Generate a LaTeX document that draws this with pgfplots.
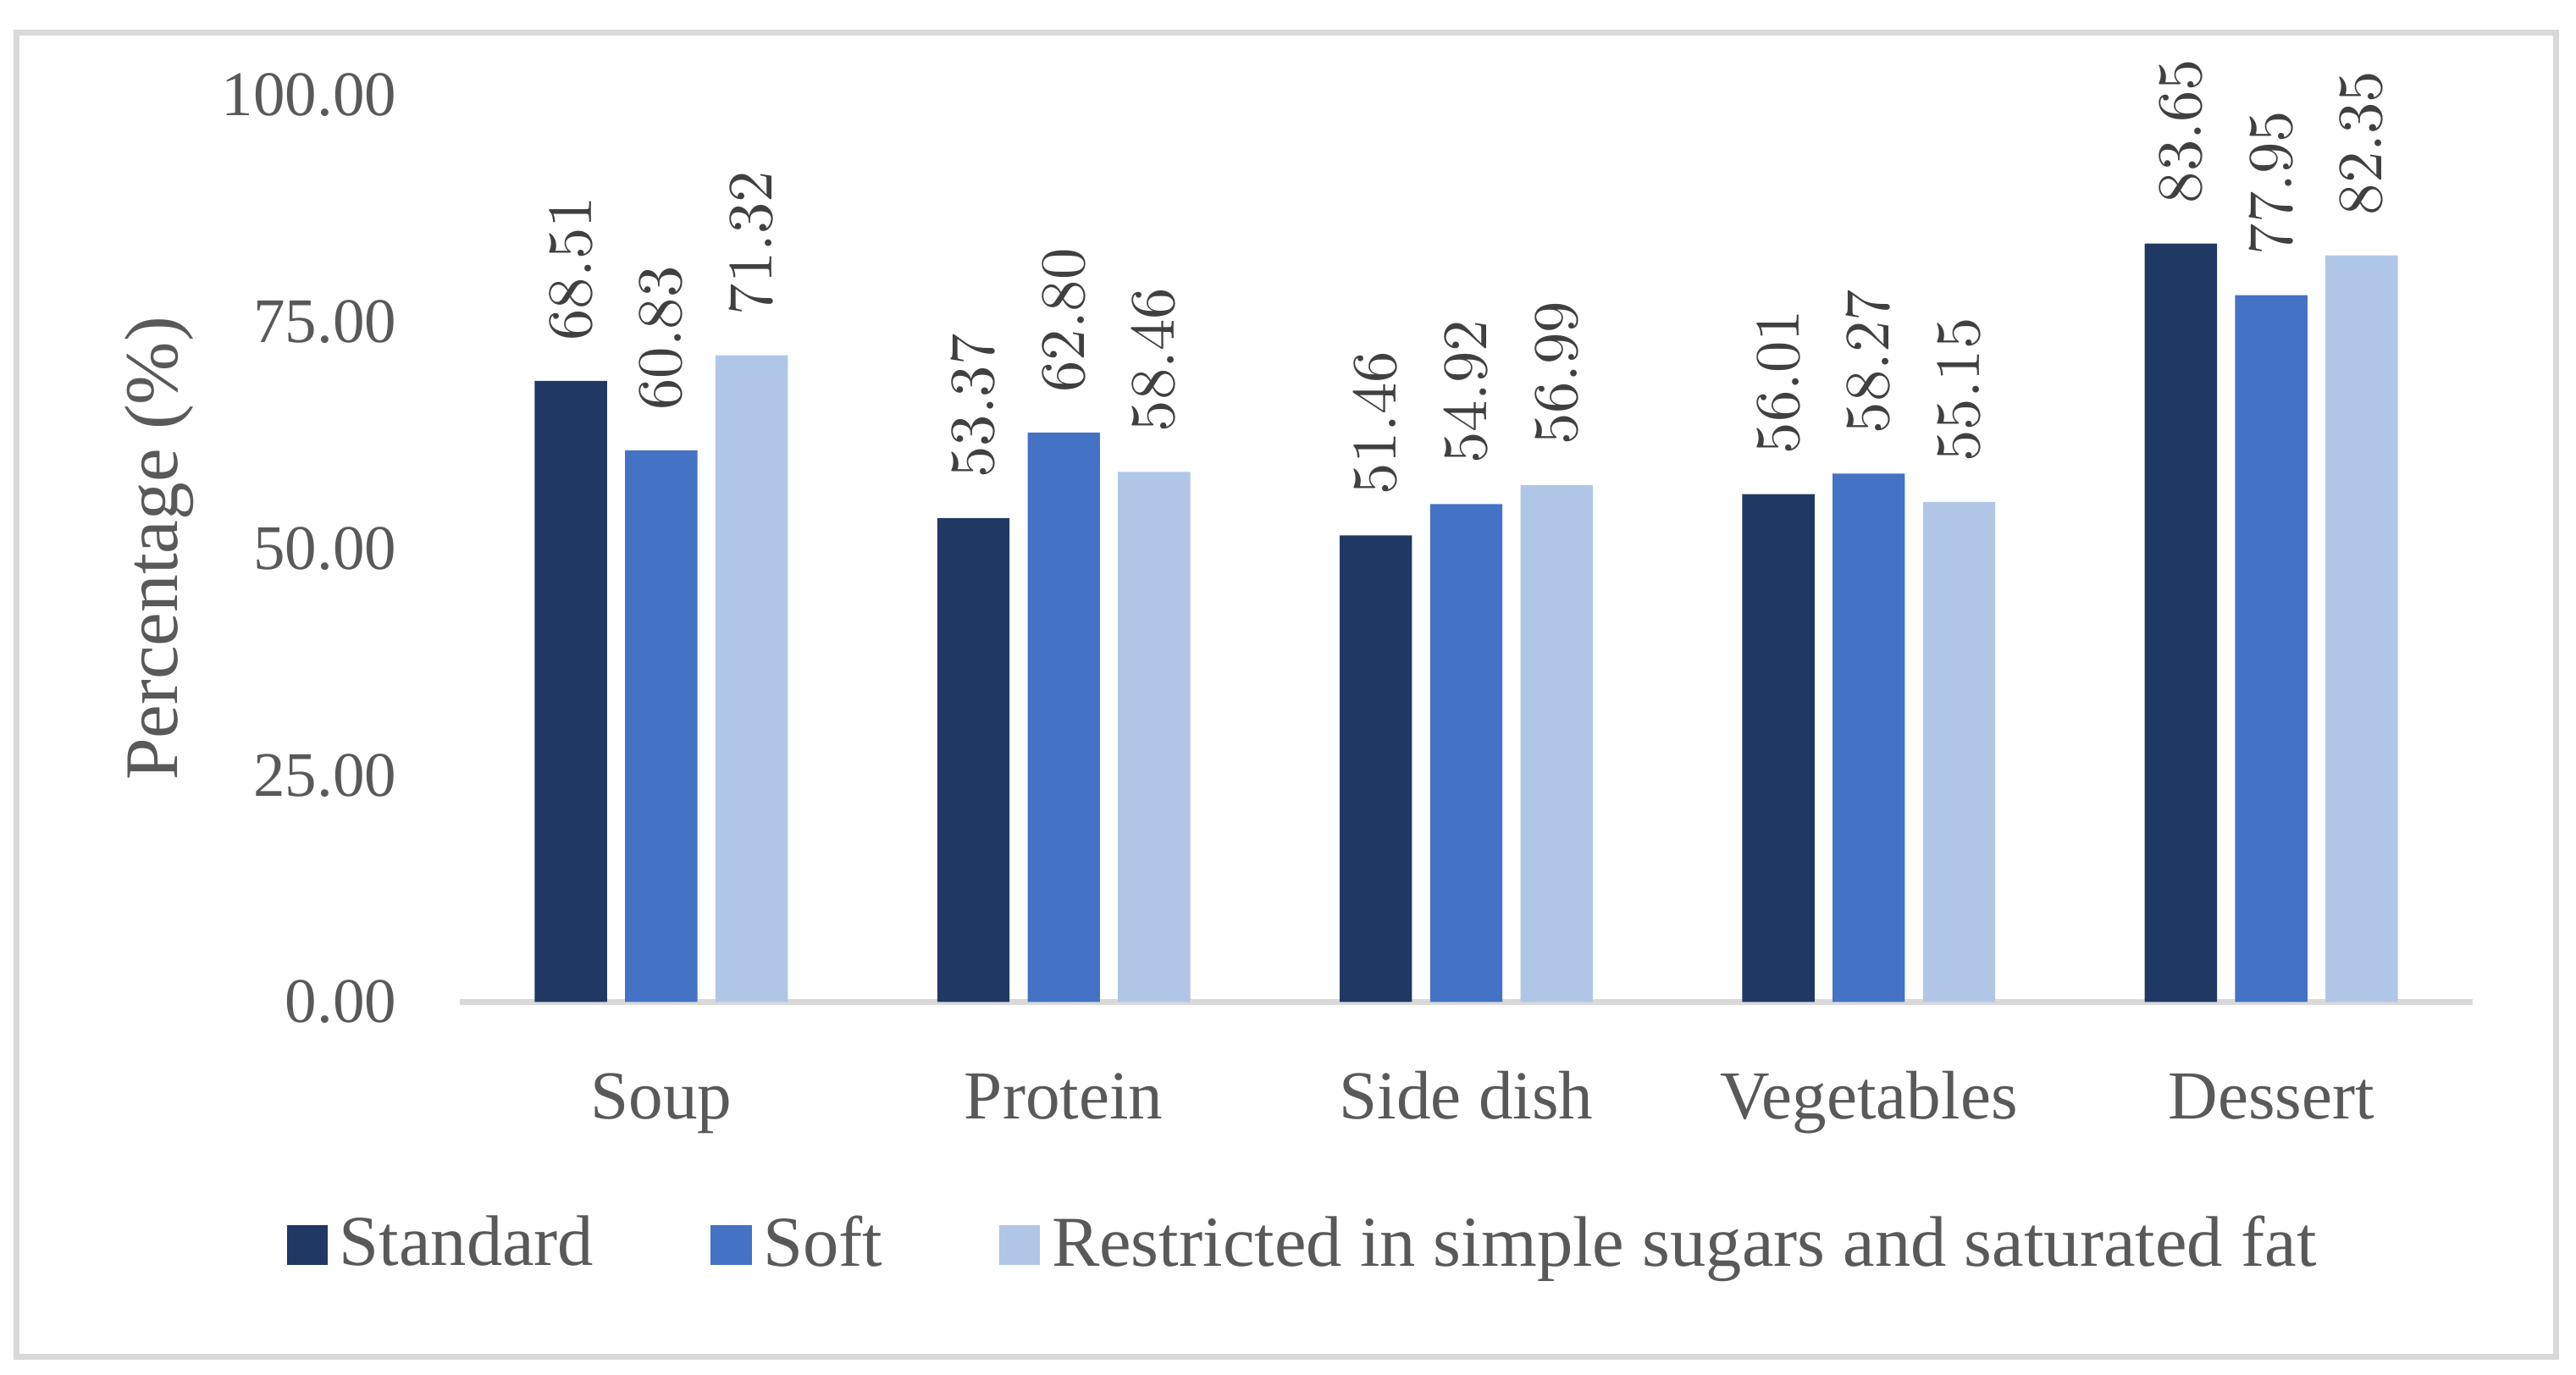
\documentclass[border=0pt]{standalone}
\usepackage{pgfplots}
\pgfplotsset{compat=1.18}
\usepackage{fontspec}
\setmainfont{Liberation Serif}
\definecolor{cStd}{HTML}{203864}
\definecolor{cSoft}{HTML}{4472C4}
\definecolor{cRes}{HTML}{AFC6E6}
\definecolor{gridgray}{HTML}{D9D9D9}
\definecolor{textgray}{HTML}{595959}
\definecolor{labelgray}{HTML}{404040}
\begin{document}
\begin{tikzpicture}
\path[use as bounding box] (-2.80,-2.27) rectangle (12.88,6.10);
\draw[gridgray, line width=1pt] (-2.70,-2.16) rectangle (12.76,5.90);
\begin{axis}[
  at={(0,0)}, anchor=south west,
  scale only axis, width=12.25cm, height=5.52cm,
  xmin=-0.5, xmax=4.5, ymin=0, ymax=100,
  ybar=0.11cm, bar width=0.44cm,
  axis lines*=left,
  y axis line style={draw=none},
  x axis line style={draw=gridgray, line width=1pt},
  major tick length=0pt,
  tick style={draw=none},
  xtick={0,1,2,3,4},
  xticklabels={Soup,Protein,Side dish,Vegetables,Dessert},
  ytick={0,25,50,75,100},
  yticklabel={\pgfmathprintnumber[fixed,fixed zerofill,precision=2,assume math mode=true]{\tick}},
  yticklabel style={font=\fontsize{11}{13}\selectfont, text=textgray, anchor=east, inner sep=0pt, xshift=-0.38cm},
  xticklabel style={font=\fontsize{11.9}{14}\selectfont, text=textgray, anchor=base, yshift=-0.71cm},
  ylabel={Percentage (\%)},
  ylabel style={at={(axis description cs:-0.1494,0.5)}, anchor=center, font=\fontsize{13.1}{15}\selectfont, text=textgray},
  nodes near coords={\pgfmathprintnumber[fixed,fixed zerofill,precision=2,assume math mode=false]{\pgfplotspointmeta}},
  every node near coord/.append style={font=\fontsize{11}{13}\selectfont, text=labelgray, yshift=0.12cm, rotate=90, anchor=west},
  legend columns=3,
  legend style={draw=none, fill=none, at={(axis description cs:0.421,-0.268)}, anchor=center,
    font=\fontsize{12.4}{14}\selectfont, text=textgray,
    /tikz/every even column/.append style={column sep=0.64cm}},
  legend image code/.code={\fill[#1] (0cm,-0.12cm) rectangle (0.25cm,0.12cm);},
]
\addplot[fill=cStd, draw=none] coordinates {(0,68.51) (1,53.37) (2,51.46) (3,56.01) (4,83.65)};
\addplot[fill=cSoft, draw=none] coordinates {(0,60.83) (1,62.80) (2,54.92) (3,58.27) (4,77.95)};
\addplot[fill=cRes, draw=none] coordinates {(0,71.32) (1,58.46) (2,56.99) (3,55.15) (4,82.35)};
\legend{Standard,Soft,Restricted in simple sugars and saturated fat}
\end{axis}
\end{tikzpicture}
\end{document}
